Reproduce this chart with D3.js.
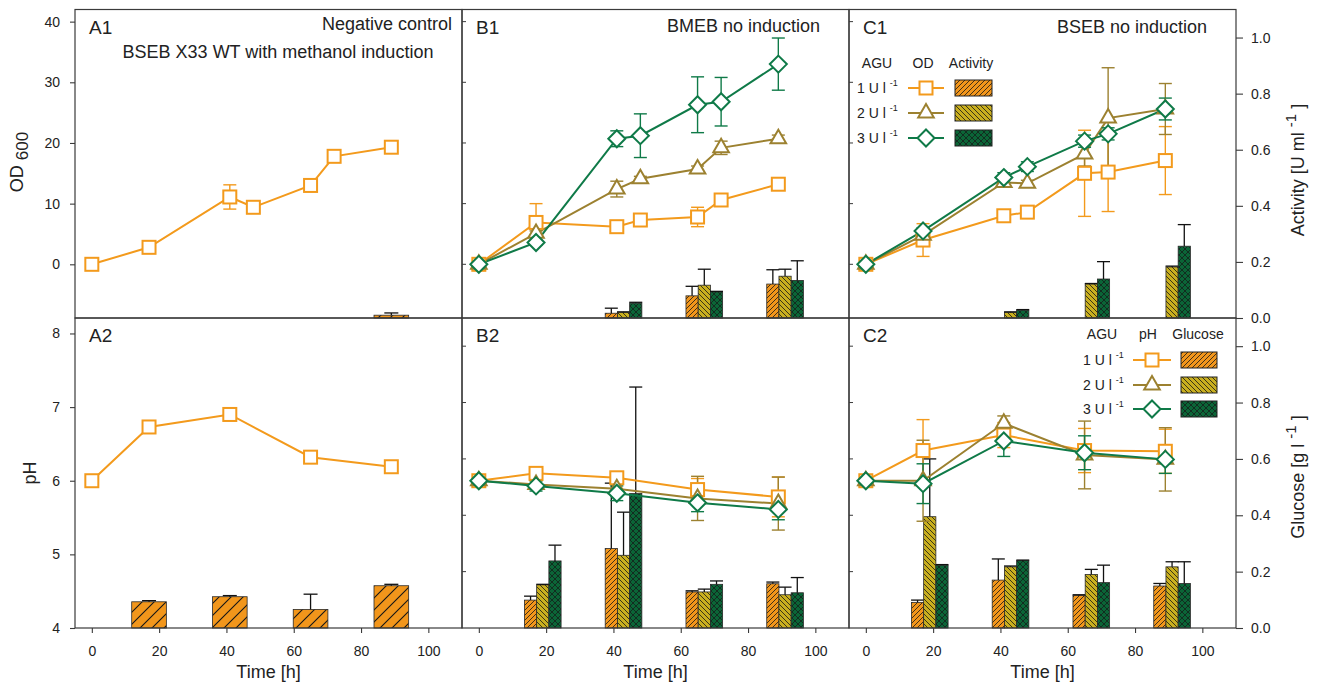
<!DOCTYPE html>
<html><head><meta charset="utf-8">
<script src="https://cdn.jsdelivr.net/npm/d3@7"></script>
<style>
body{margin:0;background:#fff}
text{font-family:"Liberation Sans",Arial,Helvetica,sans-serif;fill:#222}
</style>
</head><body><svg id="c" width="1318" height="686"></svg>
<script>
// ---------------- DATA ----------------
const odTimes = [0, 17, 41, 48, 65, 72, 89];
const phTimes = [0, 17, 41, 65, 89];
const barTimesA = [17, 41, 65, 89];
const barTimesBC = [19, 43, 67, 91];
const xTicks = [0, 20, 40, 60, 80, 100];
const odTicks = [0, 10, 20, 30, 40];
const phTicks = [4, 5, 6, 7, 8];
const rightTicks = [0, 0.2, 0.4, 0.6, 0.8, 1.0];
const aguLabels = ["1 U l", "2 U l", "3 U l"];

// Panel A (negative control, 1 series)
const odA = [0, 2.8, 11.1, 9.4, 13.0, 17.8, 19.3];
const odAErr = [0.3, 0.3, 2.0, 0.3, 0.5, 0.3, 0.3];
const actA = [0, 0, 0, 0.01];
const actAErr = [0, 0, 0, 0.008];
const phA = [6.0, 6.73, 6.90, 6.32, 6.19];
const phAErr = [0.02, 0.03, 0.02, 0.05, 0.03];
const glcA = [0.093, 0.111, 0.066, 0.150];
const glcAErr = [0.004, 0.004, 0.054, 0.005];

// Panel B (BMEB no induction)
const odB1 = [0, 6.9, 6.2, 7.3, 7.8, 10.6, 13.2];
const odB1Err = [0.3, 3.1, 0.3, 0.3, 1.6, 0.4, 0.4];
const odB2 = [0, 5.1, 12.4, 14.1, 15.7, 19.2, 20.7];
const odB2Err = [0.3, 0.4, 1.3, 0.4, 0.5, 1.1, 0.6];
const odB3 = [0, 3.6, 20.7, 21.2, 26.3, 26.8, 33.0];
const odB3Err = [0.3, 0.4, 1.3, 3.6, 4.6, 4.0, 4.3];
const actB1 = [0, 0.017, 0.079, 0.121];
const actB1Err = [0, 0.018, 0.034, 0.051];
const actB2 = [0, 0.020, 0.117, 0.149];
const actB2Err = [0, 0.002, 0.057, 0.025];
const actB3 = [0, 0.053, 0.093, 0.134];
const actB3Err = [0, 0.003, 0.002, 0.070];
const phB1 = [6.0, 6.10, 6.04, 5.88, 5.78];
const phB1Err = [0.03, 0.08, 0.08, 0.15, 0.27];
const phB2 = [6.0, 5.95, 5.89, 5.76, 5.69];
const phB2Err = [0.03, 0.05, 0.08, 0.30, 0.36];
const phB3 = [6.0, 5.93, 5.83, 5.70, 5.61];
const phB3Err = [0.03, 0.07, 0.10, 0.12, 0.14];
const glcB1 = [0.099, 0.282, 0.128, 0.157];
const glcB1Err = [0.014, 0.232, 0.004, 0.006];
const glcB2 = [0.153, 0.258, 0.128, 0.118];
const glcB2Err = [0.002, 0.153, 0.010, 0.027];
const glcB3 = [0.238, 0.477, 0.155, 0.125];
const glcB3Err = [0.056, 0.378, 0.012, 0.054];

// Panel C (BSEB no induction)
const odC1 = [0, 4.0, 8.0, 8.6, 15.0, 15.2, 17.1];
const odC1Err = [0.3, 2.7, 0.5, 0.5, 7.1, 6.5, 5.6];
const odC2 = [0, 4.8, 13.5, 13.35, 18.2, 24.1, 25.6];
const odC2Err = [0.3, 0.5, 0.5, 0.5, 2.0, 8.3, 4.2];
const odC3 = [0, 5.5, 14.3, 16.1, 20.3, 21.5, 25.6];
const odC3Err = [0.3, 0.5, 0.8, 0.8, 1.0, 1.0, 1.8];
const actC1 = [0, 0, 0, 0];
const actC1Err = [0, 0, 0, 0];
const actC2 = [0, 0.020, 0.121, 0.182];
const actC2Err = [0, 0.002, 0.002, 0.003];
const actC3 = [0, 0.028, 0.139, 0.256];
const actC3Err = [0, 0.002, 0.062, 0.077];
const phC1 = [6.0, 6.41, 6.62, 6.41, 6.40];
const phC1Err = [0.03, 0.42, 0.17, 0.30, 0.30];
const phC2 = [6.0, 6.0, 6.78, 6.35, 6.29];
const phC2Err = [0.03, 0.55, 0.10, 0.46, 0.43];
const phC3 = [6.0, 5.96, 6.54, 6.38, 6.29];
const phC3Err = [0.03, 0.27, 0.21, 0.23, 0.19];
const glcC1 = [0.091, 0.170, 0.115, 0.149];
const glcC1Err = [0.008, 0.075, 0.003, 0.009];
const glcC2 = [0.395, 0.217, 0.190, 0.217];
const glcC2Err = [0.205, 0.003, 0.018, 0.018];
const glcC3 = [0.223, 0.239, 0.161, 0.158];
const glcC3Err = [0.002, 0.002, 0.062, 0.077];

// ---------------- STYLE / LAYOUT ----------------
const lineColors = ["#F39A1C", "#9C8130", "#0F7A48"];
const barFills = ["#F2961B", "#C9AF1F", "#0B6537"];
const axisColor = "#3a3a3a";
const W = 387;
const colLeft = [75, 462, 849];
const rowTop = [9.5, 318];
const rowBot = [318, 628];
const xDomain = [-5, 110];
const odDomain = [-8.85, 42];
const phDomain = [4, 8.21];
const rDomain = [0, 1.1];

const svg = d3.select("#c");
const defs = svg.append("defs");

function mkPattern(id, fill, s, type, sw) {
  const p = defs.append("pattern").attr("id", id)
    .attr("patternUnits", "userSpaceOnUse").attr("width", s).attr("height", s);
  p.append("rect").attr("width", s).attr("height", s).attr("fill", fill);
  let d = "";
  if (type.includes("/")) d += `M0,${s} L${s},0 M${-s/2},${s/2} L${s/2},${-s/2} M${s/2},${s*1.5} L${s*1.5},${s/2} `;
  if (type.includes("\\")) d += `M0,0 L${s},${s} M${-s/2},${s/2} L${s/2},${s*1.5} M${s/2},${-s/2} L${s*1.5},${s/2} `;
  p.append("path").attr("d", d).attr("stroke", "#151515").attr("stroke-width", sw).attr("fill", "none");
}
mkPattern("p0", barFills[0], 5, "/", 0.8);
mkPattern("p1", barFills[1], 5, "\\", 0.8);
mkPattern("p2", barFills[2], 6, "/\\", 0.7);
mkPattern("p0big", barFills[0], 12, "/", 1.1);
const patterns = ["url(#p0)", "url(#p1)", "url(#p2)"];

function marker(g, i, cx, cy) {
  if (i === 0) {
    g.append("rect").attr("x", cx - 6.5).attr("y", cy - 6.5).attr("width", 13).attr("height", 13)
      .attr("fill", "#fff").attr("stroke", lineColors[0]).attr("stroke-width", 2);
  } else if (i === 1) {
    g.append("path").attr("d", d3.symbol(d3.symbolTriangle, 105)())
      .attr("transform", `translate(${cx},${cy})`)
      .attr("fill", "#fff").attr("stroke", lineColors[1]).attr("stroke-width", 2);
  } else {
    g.append("path").attr("d", "M0,-8.5 L8.5,0 L0,8.5 L-8.5,0 Z")
      .attr("transform", `translate(${cx},${cy})`)
      .attr("fill", "#fff").attr("stroke", lineColors[2]).attr("stroke-width", 2);
  }
}

function drawPanel(cfg) {
  const L = colLeft[cfg.col], top = rowTop[cfg.row], bot = rowBot[cfg.row];
  const x = d3.scaleLinear().domain(xDomain).range([L, L + W]);
  const yL = d3.scaleLinear().domain(cfg.yDom).range([bot, top]);
  const yR = d3.scaleLinear().domain(rDomain).range([bot, top]);
  const g = svg.append("g");

  // bars
  const n = cfg.bars.length;
  const bw = cfg.barW;
  const bpx = x(bw) - x(0);
  cfg.bars.forEach((b, k) => {
    const off = (k - (n - 1) / 2) * bw;
    b.v.forEach((v, j) => {
      if (v <= 0) return;
      const cx = x(cfg.barTimes[j] + off);
      g.append("rect").attr("x", cx - bpx / 2).attr("y", yR(v))
        .attr("width", bpx).attr("height", yR(0) - yR(v))
        .attr("fill", cfg.barPattern ? cfg.barPattern : patterns[b.i])
        .attr("stroke", "#2a2a2a").attr("stroke-width", 0.8);
      const e = b.e[j];
      if (e > 0) {
        const cw = cfg.capBar;
        g.append("line").attr("x1", cx).attr("x2", cx).attr("y1", yR(v)).attr("y2", yR(v + e))
          .attr("stroke", "#111").attr("stroke-width", 1.3);
        g.append("line").attr("x1", cx - cw / 2).attr("x2", cx + cw / 2).attr("y1", yR(v + e)).attr("y2", yR(v + e))
          .attr("stroke", "#111").attr("stroke-width", 1.3);
      }
    });
  });

  // lines, error bars, markers
  cfg.lines.forEach(s => {
    const pts = cfg.lineTimes.map((t, j) => [x(t), yL(s.v[j])]);
    g.append("path").attr("d", d3.line()(pts)).attr("fill", "none")
      .attr("stroke", lineColors[s.i]).attr("stroke-width", 2);
  });
  cfg.lines.forEach(s => {
    cfg.lineTimes.forEach((t, j) => {
      const e = s.e[j];
      const cx = x(t);
      const y1 = yL(s.v[j] - e), y2 = yL(s.v[j] + e);
      g.append("line").attr("x1", cx).attr("x2", cx).attr("y1", y1).attr("y2", y2)
        .attr("stroke", lineColors[s.i]).attr("stroke-width", 1.4);
      [y1, y2].forEach(yy => g.append("line").attr("x1", cx - 6.5).attr("x2", cx + 6.5)
        .attr("y1", yy).attr("y2", yy).attr("stroke", lineColors[s.i]).attr("stroke-width", 1.4));
    });
  });
  cfg.lines.forEach(s => {
    cfg.lineTimes.forEach((t, j) => marker(g, s.i, x(t), yL(s.v[j])));
  });

  // frame
  const fr = svg.append("g").attr("stroke", axisColor).attr("stroke-width", 1.2).attr("fill", "none");
  fr.append("rect").attr("x", L).attr("y", top).attr("width", W).attr("height", bot - top);

  // left axis (only col 0) / inner ticks otherwise
  if (cfg.col === 0) {
    const ax = svg.append("g").attr("transform", `translate(${L},0)`)
      .call(d3.axisLeft(yL).tickValues(cfg.yTicks).tickSize(5).tickPadding(10).tickSizeOuter(0).tickFormat(d3.format("d")));
    ax.select(".domain").remove();
    ax.selectAll("line").attr("stroke", axisColor).attr("stroke-width", 1.1);
    ax.selectAll("text").style("font-size", "14px").style("font-family", "Liberation Sans, Arial, sans-serif").attr("fill", "#222");
  } else {
    const inner = cfg.row === 0 ? cfg.yTicks.map(v => yL(v)) : rightTicks.map(v => yR(v));
    inner.forEach(yy => {
      if (yy <= top + 1 || yy >= bot - 1) return;
      svg.append("line").attr("x1", L).attr("x2", L + 4).attr("y1", yy).attr("y2", yy)
        .attr("stroke", axisColor).attr("stroke-width", 1);
    });
  }
  // right axis (col 2)
  if (cfg.col === 2) {
    const ax = svg.append("g").attr("transform", `translate(${L + W},0)`)
      .call(d3.axisRight(yR).tickValues(rightTicks).tickSize(7).tickPadding(8).tickSizeOuter(0).tickFormat(d3.format(".1f")));
    ax.select(".domain").remove();
    ax.selectAll("line").attr("stroke", axisColor).attr("stroke-width", 1.1);
    ax.selectAll("text").style("font-size", "14px").style("font-family", "Liberation Sans, Arial, sans-serif").attr("fill", "#222");
  }
  // bottom axis (row 1)
  if (cfg.row === 1) {
    const ax = svg.append("g").attr("transform", `translate(0,${bot})`)
      .call(d3.axisBottom(x).tickValues(xTicks).tickSize(5).tickPadding(13).tickSizeOuter(0));
    ax.select(".domain").remove();
    ax.selectAll("line").attr("stroke", axisColor).attr("stroke-width", 1.1);
    ax.selectAll("text").style("font-size", "14px").style("font-family", "Liberation Sans, Arial, sans-serif").attr("fill", "#222");
    svg.append("text").attr("x", L + W / 2).attr("y", 678).attr("text-anchor", "middle")
      .style("font-size", "18px").text("Time [h]");
  }
  // panel label
  svg.append("text").attr("x", L + 14).attr("y", top + 24).style("font-size", "19px").text(cfg.label);
}

drawPanel({col: 0, row: 0, label: "A1", yDom: odDomain, yTicks: odTicks, lineTimes: odTimes,
  lines: [{v: odA, e: odAErr, i: 0}], bars: [{v: actA, e: actAErr, i: 0}],
  barTimes: barTimesA, barW: 10.3, capBar: 14, barPattern: "url(#p0big)"});
drawPanel({col: 0, row: 1, label: "A2", yDom: phDomain, yTicks: phTicks, lineTimes: phTimes,
  lines: [{v: phA, e: phAErr, i: 0}], bars: [{v: glcA, e: glcAErr, i: 0}],
  barTimes: barTimesA, barW: 10.3, capBar: 14, barPattern: "url(#p0big)"});
drawPanel({col: 1, row: 0, label: "B1", yDom: odDomain, yTicks: odTicks, lineTimes: odTimes,
  lines: [{v: odB1, e: odB1Err, i: 0}, {v: odB2, e: odB2Err, i: 1}, {v: odB3, e: odB3Err, i: 2}],
  bars: [{v: actB1, e: actB1Err, i: 0}, {v: actB2, e: actB2Err, i: 1}, {v: actB3, e: actB3Err, i: 2}],
  barTimes: barTimesBC, barW: 3.63, capBar: 13});
drawPanel({col: 1, row: 1, label: "B2", yDom: phDomain, yTicks: phTicks, lineTimes: phTimes,
  lines: [{v: phB1, e: phB1Err, i: 0}, {v: phB2, e: phB2Err, i: 1}, {v: phB3, e: phB3Err, i: 2}],
  bars: [{v: glcB1, e: glcB1Err, i: 0}, {v: glcB2, e: glcB2Err, i: 1}, {v: glcB3, e: glcB3Err, i: 2}],
  barTimes: barTimesBC, barW: 3.63, capBar: 13});
drawPanel({col: 2, row: 0, label: "C1", yDom: odDomain, yTicks: odTicks, lineTimes: odTimes,
  lines: [{v: odC1, e: odC1Err, i: 0}, {v: odC2, e: odC2Err, i: 1}, {v: odC3, e: odC3Err, i: 2}],
  bars: [{v: actC1, e: actC1Err, i: 0}, {v: actC2, e: actC2Err, i: 1}, {v: actC3, e: actC3Err, i: 2}],
  barTimes: barTimesBC, barW: 3.63, capBar: 13});
drawPanel({col: 2, row: 1, label: "C2", yDom: phDomain, yTicks: phTicks, lineTimes: phTimes,
  lines: [{v: phC1, e: phC1Err, i: 0}, {v: phC2, e: phC2Err, i: 1}, {v: phC3, e: phC3Err, i: 2}],
  bars: [{v: glcC1, e: glcC1Err, i: 0}, {v: glcC2, e: glcC2Err, i: 1}, {v: glcC3, e: glcC3Err, i: 2}],
  barTimes: barTimesBC, barW: 3.63, capBar: 13});

// titles inside panels
svg.append("text").attr("x", 452).attr("y", 30).attr("text-anchor", "end").style("font-size", "18px").text("Negative control");
svg.append("text").attr("x", 278).attr("y", 58).attr("text-anchor", "middle").style("font-size", "18px").text("BSEB X33 WT with methanol induction");
svg.append("text").attr("x", 820).attr("y", 32).attr("text-anchor", "end").style("font-size", "18px").text("BMEB no induction");
svg.append("text").attr("x", 1207).attr("y", 33).attr("text-anchor", "end").style("font-size", "18px").text("BSEB no induction");

// axis titles
const odT = svg.append("text").attr("transform", "translate(23,162) rotate(-90)").attr("text-anchor", "middle").style("font-size", "18px");
odT.append("tspan").text("OD ");
odT.append("tspan").attr("dy", 5).style("font-size", "17px").text("600");
svg.append("text").attr("transform", "translate(36,473) rotate(-90)").attr("text-anchor", "middle").style("font-size", "18px").text("pH");
function rightTitle(cy, main) {
  const t = svg.append("text").attr("transform", `translate(1304,${cy}) rotate(-90)`).attr("text-anchor", "middle").style("font-size", "18px");
  t.append("tspan").text(main);
  t.append("tspan").attr("dy", -8).style("font-size", "15px").text("-1");
  t.append("tspan").attr("dy", 8).text(" ]");
}
rightTitle(170, "Activity [U ml ");
rightTitle(477, "Glucose [g l ");

// legends
function legend(cfg) {
  const hs = [["AGU", cfg.c0], [cfg.h1, cfg.c1], [cfg.h2, cfg.c2]];
  hs.forEach(([t, cx]) => svg.append("text").attr("x", cx).attr("y", cfg.hy).attr("text-anchor", "middle")
    .style("font-size", "14px").text(t));
  cfg.rows.forEach((ry, i) => {
    const t = svg.append("text").attr("x", cfg.lx).attr("y", ry + 5).style("font-size", "14px");
    t.append("tspan").text(aguLabels[i] + " ");
    t.append("tspan").attr("dy", -7).style("font-size", "9px").text("-1");
    svg.append("line").attr("x1", cfg.line0).attr("x2", cfg.line1).attr("y1", ry).attr("y2", ry)
      .attr("stroke", lineColors[i]).attr("stroke-width", 2);
    marker(svg, i, (cfg.line0 + cfg.line1) / 2, ry);
    svg.append("rect").attr("x", cfg.sw0).attr("y", ry - 8).attr("width", cfg.sw1 - cfg.sw0).attr("height", 16)
      .attr("fill", patterns[i]).attr("stroke", "#222").attr("stroke-width", 1);
  });
}
legend({h1: "OD", h2: "Activity", c0: 877, c1: 923, c2: 971, hy: 68, rows: [88, 113, 138],
  lx: 857, line0: 908, line1: 944, sw0: 955, sw1: 992});
legend({h1: "pH", h2: "Glucose", c0: 1102, c1: 1148, c2: 1198, hy: 339, rows: [360, 385, 409],
  lx: 1083, line0: 1133, line1: 1171, sw0: 1181, sw1: 1217});
</script>
</body></html>
